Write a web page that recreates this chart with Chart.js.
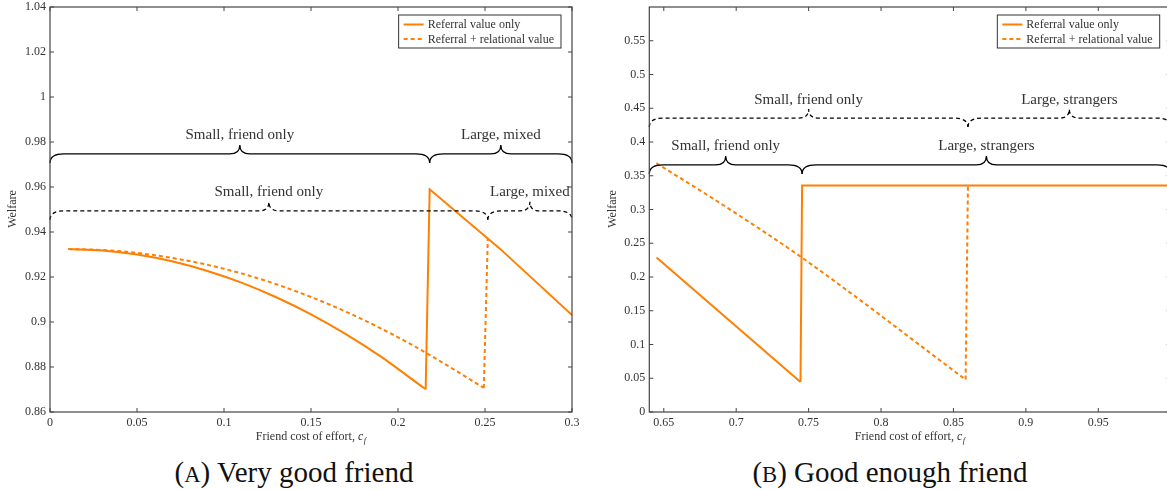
<!DOCTYPE html>
<html>
<head>
<meta charset="utf-8">
<script src="https://cdn.jsdelivr.net/npm/chart.js@4.4.1/dist/chart.umd.min.js"></script>
<style>
  body { margin: 0; width: 1167px; height: 490px; overflow: hidden; background: #fff; position: relative; }
  canvas { position: absolute; top: 0; }
  #chartA { left: 0; }
  #chartB { left: 590px; }
  .caption {
    position: absolute; top: 458px; line-height: 29px;
    font-family: "Liberation Serif", serif; font-size: 29px; color: #111;
    white-space: nowrap; transform: translateX(-50%);
  }
  .sc { font-size: 0.78em; }
</style>
</head>
<body>
<canvas id="chartA" width="590" height="445"></canvas>
<canvas id="chartB" width="590" height="445"></canvas>
<div class="caption" style="left:294px">(<span class="sc">A</span>) Very good friend</div>
<div class="caption" style="left:890px">(<span class="sc">B</span>) Good enough friend</div>
<script>
// ---- (A) Very good friend ----
// smooth part of each curve, then the jump and what follows
const aRefX = [0.0105, 0.03, 0.05, 0.07, 0.09, 0.11, 0.13, 0.15, 0.17, 0.19, 0.205, 0.2159];
const aRefY = [0.9324, 0.9318, 0.9300, 0.9270, 0.9228, 0.9175, 0.9110, 0.9034, 0.8946, 0.8847, 0.8763, 0.8701];
const aRefJumpX = [0.2159, 0.2182, 0.2587, 0.3];
const aRefJumpY = [0.8701, 0.9590, 0.9325, 0.9031];
const aRelX = [0.0105, 0.03, 0.05, 0.07, 0.09, 0.11, 0.13, 0.15, 0.17, 0.19, 0.21, 0.23, 0.2493];
const aRelY = [0.9324, 0.9320, 0.9307, 0.9285, 0.9255, 0.9216, 0.9168, 0.9111, 0.9046, 0.8972, 0.8890, 0.8799, 0.8707];
const aRelJumpX = [0.2493, 0.2516];
const aRelJumpY = [0.8707, 0.9370];
const aXTicks = [0, 0.05, 0.1, 0.15, 0.2, 0.25, 0.3];
const aYTicks = [0.86, 0.88, 0.9, 0.92, 0.94, 0.96, 0.98, 1, 1.02, 1.04];
// regime braces: boundaries, labels, height
const aRefBounds = [0, 0.2182, 0.3];
const aRefRegimes = ["Small, friend only", "Large, mixed"];
const aRefBraceY = 0.9747;
const aRelBounds = [0, 0.2516, 0.3];
const aRelRegimes = ["Small, friend only", "Large, mixed"];
const aRelBraceY = 0.9494;

// ---- (B) Good enough friend ----
const bRefX = [0.645, 0.7444];
const bRefY = [0.229, 0.0445];
const bRefJumpX = [0.7444, 0.7455, 1.0];
const bRefJumpY = [0.0445, 0.3354, 0.3354];
const bRelX = [0.6449, 0.6909, 0.7455, 0.8584];
const bRelY = [0.3686, 0.3067, 0.2285, 0.048];
const bRelJumpX = [0.8584, 0.8600];
const bRelJumpY = [0.048, 0.334];
const bXTicks = [0.65, 0.7, 0.75, 0.8, 0.85, 0.9, 0.95, 1];
const bYTicks = [0, 0.05, 0.1, 0.15, 0.2, 0.25, 0.3, 0.35, 0.4, 0.45, 0.5, 0.55];
const bRefBounds = [0.64, 0.7455, 1.0];
const bRefRegimes = ["Small, friend only", "Large, strangers"];
const bRefBraceY = 0.366;
const bRelBounds = [0.64, 0.8600, 1.0];
const bRelRegimes = ["Small, friend only", "Large, strangers"];
const bRelBraceY = 0.4354;

const ORANGE = "#ff7f00";
const SERIF = '"Liberation Serif", serif';
const DASH = [4, 3];

function fmt(v) {
  return String(+v.toFixed(3));
}

function toPoints(xs, ys) {
  return xs.map((x, i) => ({ x: x, y: ys[i] }));
}

function drawBrace(ctx, x1, x2, y) {
  const a = 9, e = 14, t = 10, xm = (x1 + x2) / 2;
  ctx.beginPath();
  ctx.moveTo(x1, y + a);
  ctx.quadraticCurveTo(x1, y, x1 + e, y);
  ctx.lineTo(xm - t, y);
  ctx.quadraticCurveTo(xm, y, xm, y - a);
  ctx.quadraticCurveTo(xm, y, xm + t, y);
  ctx.lineTo(x2 - e, y);
  ctx.quadraticCurveTo(x2, y, x2, y + a);
  ctx.stroke();
}

const decor = {
  id: "decor",
  afterDatasetsDraw(chart, args, opts) {
    const ctx = chart.ctx;
    const { left, right, top, bottom } = chart.chartArea;
    const xs = chart.scales.x, ys = chart.scales.y;
    ctx.save();

    // braces
    opts.braces.forEach((b) => {
      ctx.strokeStyle = "#000";
      ctx.lineWidth = 1.3;
      const y = ys.getPixelForValue(b.y);
      for (let i = 0; i < b.labels.length; i++) {
        const x1 = xs.getPixelForValue(b.bounds[i]);
        const x2 = xs.getPixelForValue(b.bounds[i + 1]);
        ctx.setLineDash(b.dashed ? DASH : []);
        drawBrace(ctx, x1, x2, y);
        ctx.setLineDash([]);
        ctx.fillStyle = "#333";
        ctx.font = "15px " + SERIF;
        ctx.textAlign = "center";
        ctx.textBaseline = "bottom";
        ctx.fillText(b.labels[i], (x1 + x2) / 2, y - 11);
      }
    });
    ctx.setLineDash([]);

    // frame and inward ticks on all four sides
    ctx.strokeStyle = "#444";
    ctx.lineWidth = 1.2;
    ctx.strokeRect(left, top, right - left, bottom - top);
    ctx.lineWidth = 1;
    ctx.beginPath();
    xs.ticks.forEach((t) => {
      const px = xs.getPixelForValue(t.value);
      ctx.moveTo(px, bottom); ctx.lineTo(px, bottom - 4);
      ctx.moveTo(px, top); ctx.lineTo(px, top + 4);
    });
    ys.ticks.forEach((t) => {
      const py = ys.getPixelForValue(t.value);
      ctx.moveTo(left, py); ctx.lineTo(left + 4, py);
      ctx.moveTo(right, py); ctx.lineTo(right - 4, py);
    });
    ctx.stroke();

    // legend box (only the labelled datasets)
    ctx.font = "12px " + SERIF;
    const items = chart.data.datasets.filter((d) => d.label);
    const tw = Math.max(...items.map((d) => ctx.measureText(d.label).width));
    const bw = 5 + 20 + 4 + tw + 7, bh = 33;
    const bx = right - 11 - bw, by = top + 8;
    ctx.fillStyle = "#fff";
    ctx.fillRect(bx, by, bw, bh);
    ctx.strokeStyle = "#333";
    ctx.strokeRect(bx, by, bw, bh);
    items.forEach((d, i) => {
      const ly = by + 9.5 + i * 14.4;
      ctx.strokeStyle = ORANGE;
      ctx.lineWidth = 2;
      ctx.setLineDash(d.borderDash || []);
      ctx.beginPath();
      ctx.moveTo(bx + 5, ly); ctx.lineTo(bx + 25, ly);
      ctx.stroke();
      ctx.setLineDash([]);
      ctx.fillStyle = "#333";
      ctx.textAlign = "left";
      ctx.textBaseline = "middle";
      ctx.fillText(d.label, bx + 29, ly + 0.5);
    });

    // axis titles
    ctx.fillStyle = "#333";
    ctx.textBaseline = "alphabetic";
    ctx.textAlign = "left";
    const main = "Friend cost of effort, ";
    ctx.font = "12px " + SERIF;
    const w1 = ctx.measureText(main).width;
    ctx.font = "italic 12px " + SERIF;
    const w2 = ctx.measureText("c").width;
    ctx.font = "italic 8.5px " + SERIF;
    const w3 = ctx.measureText("f").width;
    let sx = (left + right) / 2 - (w1 + w2 + w3 + 0.5) / 2;
    ctx.font = "12px " + SERIF;
    ctx.fillText(main, sx, 440);
    ctx.font = "italic 12px " + SERIF;
    ctx.fillText("c", sx + w1, 440);
    ctx.font = "italic 8.5px " + SERIF;
    ctx.fillText("f", sx + w1 + w2 + 0.5, 443);

    ctx.translate(opts.yTitleX, 209);
    ctx.rotate(-Math.PI / 2);
    ctx.font = "12px " + SERIF;
    ctx.textAlign = "center";
    ctx.textBaseline = "middle";
    ctx.fillText("Welfare", 0, 0);
    ctx.restore();
  }
};

function series(label, xs, ys, dashed, smooth) {
  return {
    label: label,
    data: toPoints(xs, ys),
    borderColor: ORANGE,
    borderWidth: 2,
    borderDash: dashed ? DASH : [],
    pointRadius: 0,
    cubicInterpolationMode: smooth ? "monotone" : "default",
    tension: 0,
  };
}

function makeChart(id, cfg) {
  const tickFont = { family: SERIF, size: 12 };
  new Chart(document.getElementById(id), {
    type: "line",
    data: {
      datasets: [
        series("Referral value only", cfg.refX, cfg.refY, false, true),
        series("Referral + relational value", cfg.relX, cfg.relY, true, true),
        series("", cfg.refJumpX, cfg.refJumpY, false, false),
        series("", cfg.relJumpX, cfg.relJumpY, true, false),
      ],
    },
    options: {
      responsive: false,
      animation: false,
      layout: { padding: { left: 0, right: cfg.padRight, top: 7, bottom: 0 } },
      plugins: {
        legend: { display: false },
        tooltip: { enabled: false },
        decor: {
          yTitleX: cfg.yTitleX,
          braces: [
            { bounds: cfg.refBounds, labels: cfg.refRegimes, y: cfg.refBraceY, dashed: false },
            { bounds: cfg.relBounds, labels: cfg.relRegimes, y: cfg.relBraceY, dashed: true },
          ],
        },
      },
      scales: {
        x: {
          type: "linear",
          min: cfg.xMin,
          max: cfg.xMax,
          afterBuildTicks: (s) => { s.ticks = cfg.xTicks.map((v) => ({ value: v })); },
          afterFit: (s) => { s.height = 33; s.paddingLeft = 0; s.paddingRight = 0; },
          ticks: { font: tickFont, color: "#333", padding: 4, maxRotation: 0, autoSkip: false, callback: fmt },
          grid: { display: false, drawTicks: false },
          border: { display: false },
        },
        y: {
          type: "linear",
          min: cfg.yMin,
          max: cfg.yMax,
          afterBuildTicks: (s) => { s.ticks = cfg.yTicks.map((v) => ({ value: v })); },
          afterFit: (s) => { s.width = cfg.yWidth; s.paddingTop = 0; s.paddingBottom = 0; },
          ticks: { font: tickFont, color: "#333", padding: 4, autoSkip: false, callback: fmt },
          grid: { display: false, drawTicks: false },
          border: { display: false },
        },
      },
    },
    plugins: [decor],
  });
}

makeChart("chartA", {
  refX: aRefX, refY: aRefY, relX: aRelX, relY: aRelY,
  refJumpX: aRefJumpX, refJumpY: aRefJumpY, relJumpX: aRelJumpX, relJumpY: aRelJumpY,
  xTicks: aXTicks, yTicks: aYTicks,
  xMin: 0, xMax: 0.3, yMin: 0.86, yMax: 1.04,
  refBounds: aRefBounds, refRegimes: aRefRegimes, refBraceY: aRefBraceY,
  relBounds: aRelBounds, relRegimes: aRelRegimes, relBraceY: aRelBraceY,
  yWidth: 50, padRight: 18, yTitleX: 13,
});

makeChart("chartB", {
  refX: bRefX, refY: bRefY, relX: bRelX, relY: bRelY,
  refJumpX: bRefJumpX, refJumpY: bRefJumpY, relJumpX: bRelJumpX, relJumpY: bRelJumpY,
  xTicks: bXTicks, yTicks: bYTicks,
  xMin: 0.64, xMax: 1.0, yMin: 0, yMax: 0.6,
  refBounds: bRefBounds, refRegimes: bRefRegimes, refBraceY: bRefBraceY,
  relBounds: bRelBounds, relRegimes: bRelRegimes, relBraceY: bRelBraceY,
  yWidth: 59.3, padRight: 9.3, yTitleX: 22.5,
});
</script>
</body>
</html>
